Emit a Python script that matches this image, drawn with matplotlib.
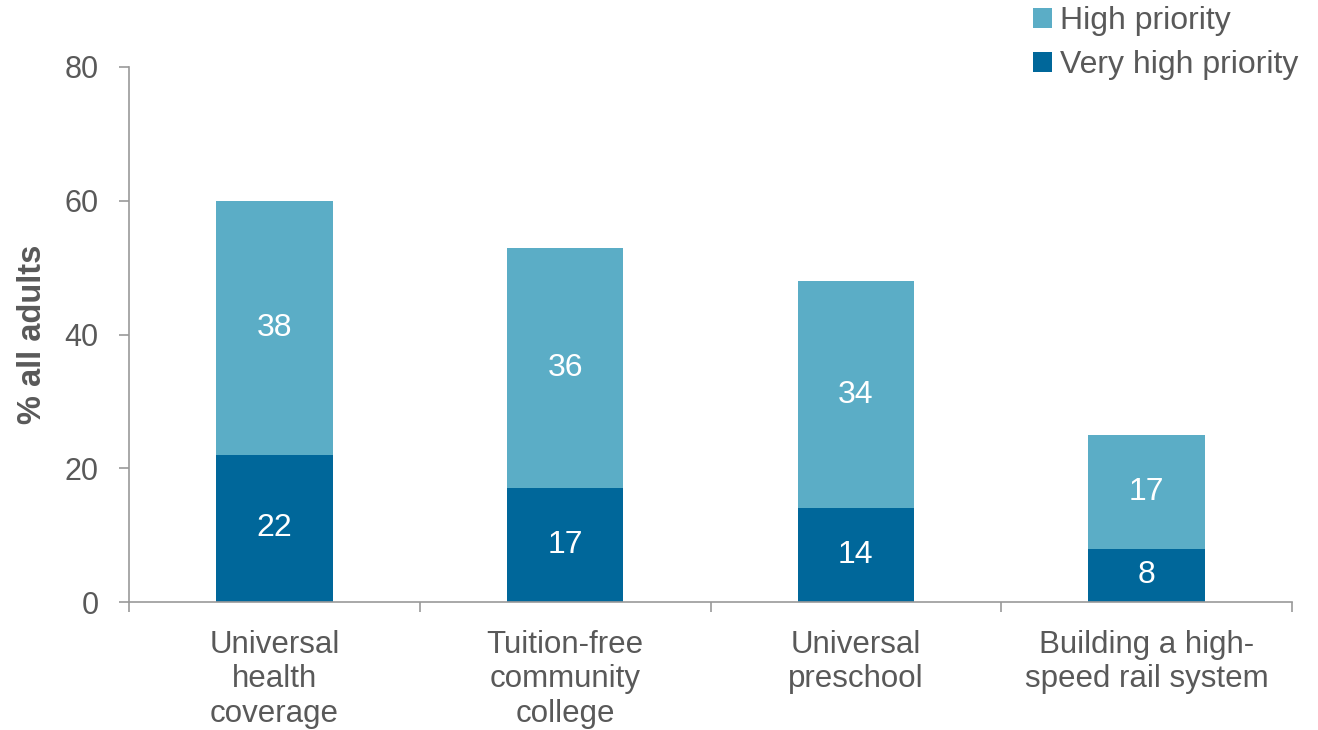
import matplotlib
matplotlib.use("Agg")
import matplotlib.pyplot as plt
import numpy as np

categories = ["Universal\nhealth\ncoverage", "Tuition-free\ncommunity\ncollege",
              "Universal\npreschool", "Building a high-\nspeed rail system"]
very_high = [22, 17, 14, 8]
high = [38, 36, 34, 17]

dark = "#00679A"
light = "#5BADC6"
txt = "#595959"
axc = "#999999"

plt.rcParams['font.family'] = ['Liberation Sans', 'DejaVu Sans']

fig = plt.figure(figsize=(13.18, 7.30), dpi=100)
ax = fig.add_axes([129/1318, 1-602/730, (1292-129)/1318, (602-67)/730])

x = np.arange(len(categories))
w = 0.4
b1 = ax.bar(x, very_high, w, color=dark, label="Very high priority")
b2 = ax.bar(x, high, w, bottom=very_high, color=light, label="High priority")

for i in range(len(x)):
    ax.text(x[i], very_high[i]/2, str(very_high[i]), ha='center', va='center',
            color='white', fontsize=23)
    ax.text(x[i], very_high[i] + high[i]/2, str(high[i]), ha='center', va='center',
            color='white', fontsize=23)

ax.set_xlim(-0.5, 3.5)
ax.set_ylim(0, 80)
ax.set_yticks([0, 20, 40, 60, 80])
ax.set_xticks(np.arange(-0.5, 4, 1))
ax.set_xticklabels([])
ax.set_xticks(x, minor=True)
ax.set_xticklabels(categories, minor=True, fontsize=22.5, color=txt, linespacing=1.2)
ax.tick_params(axis='x', which='minor', length=0, pad=20)
ax.tick_params(axis='x', which='major', length=7, color=axc, width=1.2)
ax.tick_params(axis='y', length=7, color=axc, width=1.2, labelsize=22, labelcolor=txt, pad=15)

for s in ['top', 'right']:
    ax.spines[s].set_visible(False)
for s in ['left', 'bottom']:
    ax.spines[s].set_color(axc)
    ax.spines[s].set_linewidth(1.2)

ax.set_ylabel("% all adults", fontsize=23.5, fontweight='bold', color=txt, labelpad=12)

leg = fig.legend(handles=[b2, b1], labels=["High priority", "Very high priority"],
                 loc='upper right', bbox_to_anchor=(1.0, 1.018), frameon=False,
                 fontsize=23, handlelength=0.6, handleheight=0.6, handletextpad=0.25,
                 labelspacing=0.45, labelcolor=txt, borderaxespad=0.2)

fig.savefig("out.png", dpi=100)
